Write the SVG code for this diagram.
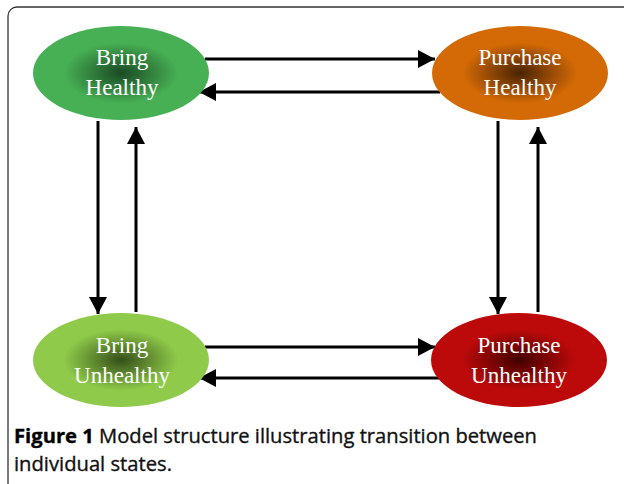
<svg xmlns="http://www.w3.org/2000/svg" width="624" height="484" viewBox="0 0 624 484">
<style>
.frame{fill:#fff;stroke:#333;stroke-width:1.3}
.lbl{font-family:"Liberation Serif","Times New Roman",serif;font-size:23px;fill:#fff;text-anchor:middle}
.conn{stroke:#000;stroke-width:3;fill:none}
.cap{font-family:"Open Sans","Noto Sans",sans-serif;font-size:20px;fill:#111;stroke:#111;stroke-width:0.35}
.capb{font-weight:bold;fill:#000;stroke:#000}
</style>
<defs>
<marker id="ah" markerUnits="userSpaceOnUse" markerWidth="17" markerHeight="18" refX="17" refY="9" orient="auto">
<path d="M0,0 L17,9 L0,18 z" fill="#000"/>
</marker>
<radialGradient id="gBH" cx="50%" cy="50%" r="50%">
<stop offset="0" stop-color="#1a4a24"/>
<stop offset="0.65" stop-color="#47b054"/>
<stop offset="1" stop-color="#47b054"/>
</radialGradient>
<radialGradient id="gPH" cx="50%" cy="50%" r="50%">
<stop offset="0" stop-color="#4a2302"/>
<stop offset="0.65" stop-color="#d46a06"/>
<stop offset="1" stop-color="#d46a06"/>
</radialGradient>
<radialGradient id="gBU" cx="50%" cy="50%" r="50%">
<stop offset="0" stop-color="#354f19"/>
<stop offset="0.65" stop-color="#8fca4a"/>
<stop offset="1" stop-color="#8fca4a"/>
</radialGradient>
<radialGradient id="gPU" cx="50%" cy="50%" r="50%">
<stop offset="0" stop-color="#420000"/>
<stop offset="0.65" stop-color="#bc0a0a"/>
<stop offset="1" stop-color="#bc0a0a"/>
</radialGradient>
</defs>
<rect class="frame" x="8" y="7" width="640" height="490" rx="9"/>
<g id="connectors">
<line class="conn" x1="205" y1="59" x2="435" y2="59" marker-end="url(#ah)"/>
<line class="conn" x1="440" y1="92" x2="199" y2="92" marker-end="url(#ah)"/>
<line class="conn" x1="98" y1="121" x2="98" y2="314" marker-end="url(#ah)"/>
<line class="conn" x1="136" y1="312" x2="136" y2="127" marker-end="url(#ah)"/>
<line class="conn" x1="498" y1="121" x2="498" y2="314" marker-end="url(#ah)"/>
<line class="conn" x1="538" y1="312" x2="538" y2="127" marker-end="url(#ah)"/>
<line class="conn" x1="205" y1="347" x2="435" y2="347" marker-end="url(#ah)"/>
<line class="conn" x1="440" y1="378" x2="199" y2="378" marker-end="url(#ah)"/>
</g>
<g id="bring-healthy">
<ellipse cx="121" cy="73" rx="88" ry="47" fill="url(#gBH)"/>
<text class="lbl" x="122" y="65">Bring</text>
<text class="lbl" x="122" y="95">Healthy</text>
</g>
<g id="purchase-healthy">
<ellipse cx="520" cy="73" rx="88" ry="47" fill="url(#gPH)"/>
<text class="lbl" x="520" y="65">Purchase</text>
<text class="lbl" x="520" y="95">Healthy</text>
</g>
<g id="bring-unhealthy">
<ellipse cx="121" cy="360" rx="88" ry="47" fill="url(#gBU)"/>
<text class="lbl" x="122" y="353">Bring</text>
<text class="lbl" x="122" y="383">Unhealthy</text>
</g>
<g id="purchase-unhealthy">
<ellipse cx="519" cy="360" rx="88" ry="47" fill="url(#gPU)"/>
<text class="lbl" x="519" y="353">Purchase</text>
<text class="lbl" x="519" y="383">Unhealthy</text>
</g>
<g id="caption">
<text class="cap" x="14" y="443" textLength="523" lengthAdjust="spacingAndGlyphs"><tspan class="capb">Figure 1</tspan> Model structure illustrating transition between</text>
<text class="cap" x="14" y="471" textLength="158" lengthAdjust="spacingAndGlyphs">individual states.</text>
</g>
</svg>
